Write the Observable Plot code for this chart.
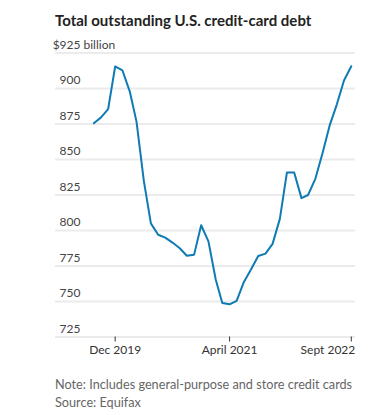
<!DOCTYPE html>
<html>
<head>
<meta charset="utf-8">
<script src="https://cdn.jsdelivr.net/npm/d3@7"></script>
<script src="https://cdn.jsdelivr.net/npm/@observablehq/plot@0.6"></script>
<style>
  html, body { margin: 0; padding: 0; background: #fff; }
  body { width: 374px; height: 415px; position: relative; overflow: hidden; font-family: Lato, "Noto Sans", sans-serif; }
  #title { position: absolute; left: 55px; top: 11px; font-size: 15px; font-weight: 700; line-height: 18px; color: #222; white-space: nowrap; }
  #chart { position: absolute; left: 0; top: 30px; }
  #note { position: absolute; left: 55px; top: 375px; font-size: 12.7px; line-height: 18.4px; color: #666; white-space: nowrap; }
</style>
</head>
<body>
<div id="title">Total outstanding U.S. credit-card debt</div>
<div id="chart"></div>
<div id="note">Note: Includes general-purpose and store credit cards<br>Source: Equifax</div>
<script>
const months = [
  "2019-09-01","2019-10-01","2019-11-01","2019-12-01",
  "2020-01-01","2020-02-01","2020-03-01","2020-04-01","2020-05-01","2020-06-01",
  "2020-07-01","2020-08-01","2020-09-01","2020-10-01","2020-11-01","2020-12-01",
  "2021-01-01","2021-02-01","2021-03-01","2021-04-01","2021-05-01","2021-06-01",
  "2021-07-01","2021-08-01","2021-09-01","2021-10-01","2021-11-01","2021-12-01",
  "2022-01-01","2022-02-01","2022-03-01","2022-04-01","2022-05-01","2022-06-01",
  "2022-07-01","2022-08-01","2022-09-01"
];
const debtBillions = [
  875.5, 879.5, 885.5, 915.5,
  912.7, 898, 876.5, 835, 805, 797,
  795, 791.5, 787.5, 782.2, 783, 803.7,
  792.3, 765.5, 749, 748, 750.5, 763.8,
  772.5, 782, 783.7, 790.6, 808.2, 840.8,
  840.8, 822.8, 825, 836.4, 854, 874,
  888.5, 905.6, 915.7
];
const yTicks = [725, 750, 775, 800, 825, 850, 875, 900, 925];
const xTickDates = ["2019-12-01", "2021-04-01", "2022-09-01"];
const xTickLabels = ["Dec 2019", "April 2021", "Sept 2022"];
const unitLabel = "billion";
const xDomain = ["2019-03-22", "2022-09-19"];

const data = months.map((m, i) => ({date: new Date(m), value: debtBillions[i]}));
const xTicks = xTickDates.map(d => new Date(d));
const labelOf = d => xTickLabels[xTicks.findIndex(t => +t === +d)];

const chart = Plot.plot({
  width: 374,
  height: 330,
  marginLeft: 55,
  marginRight: 19,
  marginTop: 22.5,
  marginBottom: 23.5,
  style: {fontFamily: "Lato, 'Noto Sans', sans-serif", background: "transparent"},
  x: {type: "utc", domain: xDomain.map(d => new Date(d)), axis: null},
  y: {domain: [725, 925], axis: null},
  marks: [
    Plot.ruleY(yTicks, {stroke: "#ebebeb", strokeWidth: 2}),
    Plot.axisX(xTicks, {
      tickSize: 5, tickPadding: 3, stroke: "#333", fill: "#333", fontSize: 12,
      tickFormat: d => (+d === +xTicks[xTicks.length - 1] ? "" : labelOf(d)),
      label: null
    }),
    Plot.axisX([xTicks[xTicks.length - 1]], {
      tickSize: 0, tickPadding: 8, fill: "#333", fontSize: 12,
      textAnchor: "end", dx: 4,
      tickFormat: labelOf,
      label: null
    }),
    Plot.text(yTicks, {
      y: d => d,
      frameAnchor: "left",
      text: d => (d === 925 ? "$" : "") + d,
      textAnchor: "end",
      dx: 25, dy: -8,
      fill: "#444", fontSize: 12
    }),
    Plot.text([925], {
      y: d => d,
      frameAnchor: "left",
      text: () => unitLabel,
      textAnchor: "start",
      dx: 28, dy: -8,
      fill: "#444", fontSize: 12
    }),
    Plot.lineY(data, {x: "date", y: "value", stroke: "#0f7bb4", strokeWidth: 2})
  ]
});
document.getElementById("chart").appendChild(chart);
</script>
</body>
</html>
